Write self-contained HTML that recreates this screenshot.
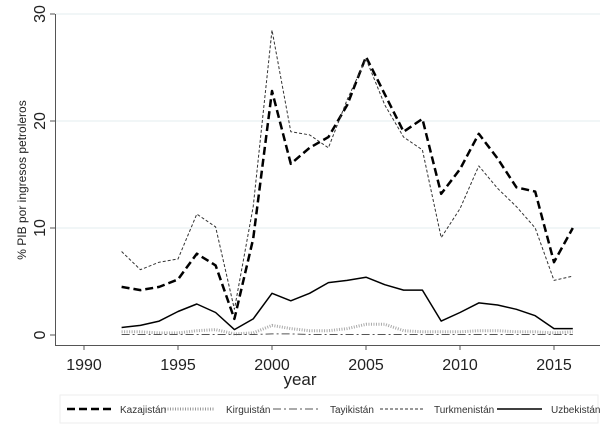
<!DOCTYPE html>
<html><head><meta charset="utf-8"><style>body{margin:0;background:#fff}svg{display:block}</style></head>
<body>
<svg id="s" width="610" height="431" xmlns="http://www.w3.org/2000/svg" font-family="Liberation Sans, sans-serif">
<rect width="610" height="431" fill="#fff"/>
<g stroke="#e3ecef" stroke-width="1">
<line x1="56" x2="600" y1="121" y2="121"/><line x1="56" x2="600" y1="228" y2="228"/><line x1="56" x2="600" y1="14" y2="14"/>
</g>
<line x1="55.5" y1="14" x2="55.5" y2="345" stroke="#555" stroke-width="1"/>
<line x1="55" y1="345.5" x2="600" y2="345.5" stroke="#555" stroke-width="1"/>
<g stroke="#555"><line x1="50" x2="55" y1="14" y2="14"/><line x1="50" x2="55" y1="121" y2="121"/><line x1="50" x2="55" y1="228" y2="228"/><line x1="50" x2="55" y1="335" y2="335"/>
<line x1="84" x2="84" y1="345" y2="350"/><line x1="178" x2="178" y1="345" y2="350"/><line x1="272" x2="272" y1="345" y2="350"/><line x1="366" x2="366" y1="345" y2="350"/><line x1="460" x2="460" y1="345" y2="350"/><line x1="554" x2="554" y1="345" y2="350"/></g>
<g font-size="16" fill="#222" text-anchor="middle">
<text transform="translate(45,14) rotate(-90)">30</text>
<text transform="translate(45,121) rotate(-90)">20</text>
<text transform="translate(45,228) rotate(-90)">10</text>
<text transform="translate(45,335) rotate(-90)">0</text>
<text x="84" y="370">1990</text><text x="178" y="370">1995</text><text x="272" y="370">2000</text><text x="366" y="370">2005</text><text x="460" y="370">2010</text><text x="554" y="370">2015</text>
<text x="300" y="385" font-size="17">year</text>
<text transform="translate(26,180) rotate(-90)" font-size="12">% PIB por ingresos petroleros</text>
</g>
<rect x="60" y="395" width="538" height="28" fill="#fff" stroke="#eee"/>
<g stroke="#000">
<line x1="67" x2="112" y1="409" y2="409" stroke-width="2.5" stroke-dasharray="8,4"/>
<line x1="165" x2="215" y1="409" y2="409" stroke="#999" stroke-width="3" stroke-dasharray="1,1.5"/>
<line x1="273" x2="318" y1="409" y2="409" stroke="#555" stroke-width="1" stroke-dasharray="8,3,2,3"/>
<line x1="380" x2="425" y1="409" y2="409" stroke="#333" stroke-width="1" stroke-dasharray="3,2"/>
<line x1="497" x2="542" y1="409" y2="409" stroke-width="1.5"/>
</g>
<g font-size="10" fill="#333">
<text x="120" y="413">Kazajistán</text><text x="226" y="413">Kirguistán</text><text x="330" y="413">Tayikistán</text><text x="434" y="413">Turkmenistán</text><text x="551" y="413">Uzbekistán</text>
</g>
<g id="lines" fill="none"></g>
</svg>
<script>
var d={
kaz:[4.5,4.2,4.5,5.2,7.6,6.5,1.5,9,22.8,16,17.5,18.5,21.5,26,22.5,19,20.2,13.2,15.5,18.8,16.5,13.8,13.4,6.8,10],
tur:[7.8,6.1,6.8,7.1,11.3,10.1,2.4,12,28.5,19,18.7,17.5,22,25.8,21.5,18.5,17.3,9.1,11.8,15.8,13.7,12,10,5.1,5.5],
uzb:[.7,.9,1.3,2.2,2.9,2.1,.5,1.5,3.9,3.2,3.9,4.9,5.1,5.4,4.7,4.2,4.2,1.3,2.1,3,2.8,2.4,1.8,.6,.6],
kir:[.3,.3,.2,.2,.4,.5,.1,.2,.9,.6,.4,.4,.6,1,1,.4,.3,.3,.3,.4,.4,.3,.3,.2,.3],
taj:[.05,.05,.05,.05,.05,.05,.05,.05,.1,.1,.05,.05,.05,.05,.05,.05,.05,.05,.05,.05,.05,.05,.05,.05,.05]};
var st={kaz:['#000',2.5,'8,4'],tur:['#333',1,'3,2'],uzb:['#000',1.5,''],kir:['#aaa',3,'1,1.5'],taj:['#555',1,'8,3,2,3']};
var g=document.getElementById('lines'),h='';
for(var k in d){var p=d[k].map(function(v,i){return (84+(1992+i-1990)*18.8).toFixed(1)+','+(335-v*10.7).toFixed(1)}).join(' ');
h+='<polyline points="'+p+'" stroke="'+st[k][0]+'" stroke-width="'+st[k][1]+'" stroke-dasharray="'+st[k][2]+'" stroke-linejoin="round"/>';}
g.innerHTML=h;
</script>
</body></html>
